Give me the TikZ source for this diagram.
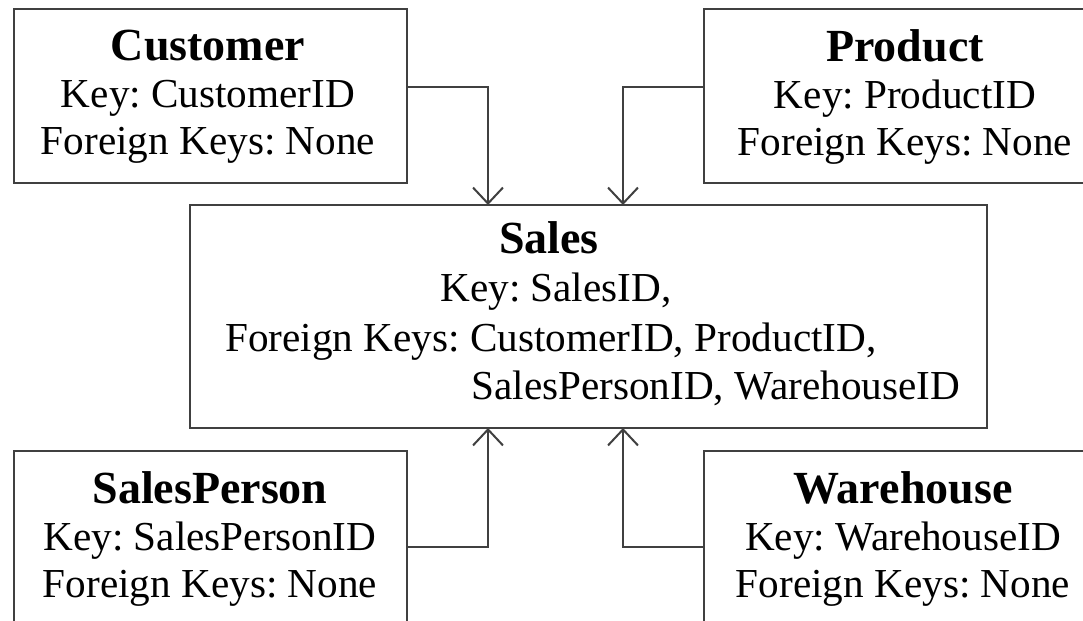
\documentclass[tikz,border=0pt]{standalone}
\usepackage{fontspec}
\setmainfont{Liberation Serif}
\usetikzlibrary{arrows.meta}
\frenchspacing

\tikzset{
  tbl/.style={draw=black!75, line width=1pt, inner sep=0pt, outer sep=0pt,
    minimum width=196.5pt, minimum height=87pt},
  rows/.style={align=center, inner sep=0pt, font=\fontsize{20.6}{23.5}\selectfont},
  rowline/.style={anchor=base west, inner sep=0pt, font=\fontsize{20.6}{23.5}\selectfont},
  fk/.style={draw=black!75, line width=1pt, -{Straight Barb[length=8pt,width=15pt]}}
}
\newcommand{\tname}[1]{{\fontsize{23}{26}\selectfont\bfseries #1}}

\begin{document}
\begin{tikzpicture}[x=0.5pt,y=-0.5pt]
	\clip (0,0) rectangle (1083,621);
	\fill[white] (0,0) rectangle (1083,621);
	% tables
	\node[tbl] (cust) at (210.5,96) {};
	\node[tbl] (prod) at (900.5,96) {};
	\node[tbl] (sp) at (210.5,538) {};
	\node[tbl] (wh) at (900.5,538) {};
	\node[tbl, minimum width=398.5pt, minimum height=111.5pt] (sales) at (588.5,316.5) {};
	
	% table texts
	\node[rows] (custtxt) at (208,97) {\tname{Customer}\\Key: CustomerID\\Foreign Keys: None};
	\node[rows] (prodtxt) at (905,97) {\tname{Product}\\Key: ProductID\\Foreign Keys: None};
	\node[rows] (sptxt) at (210,539) {\tname{SalesPerson}\\Key: SalesPersonID\\Foreign Keys: None};
	\node[rows] (whtxt) at (903,539) {\tname{Warehouse}\\Key: WarehouseID\\Foreign Keys: None};
	\node[rowline, anchor=base] (salesT) at (549,253) {\tname{Sales}};
	\node[rowline] (salesK) at (440,301) {Key: SalesID,};
	\node[rowline] (salesF) at (225,351) {Foreign Keys: CustomerID, ProductID,};
	\node[rowline] (salesG) at (471,399) {SalesPersonID, WarehouseID};
	
	% foreign key links
	\coordinate (inL) at (488,0);
	\coordinate (inR) at (623,0);
	\draw[fk] ([yshift=4.5pt]cust.east) -| (sales.north -| inL);
	\draw[fk] ([yshift=4.5pt]prod.west) -| (sales.north -| inR);
	\draw[fk] ([yshift=-4.5pt]sp.east) -| (sales.south -| inL);
	\draw[fk] ([yshift=-4.5pt]wh.west) -| (sales.south -| inR);
\end{tikzpicture}
\end{document}
